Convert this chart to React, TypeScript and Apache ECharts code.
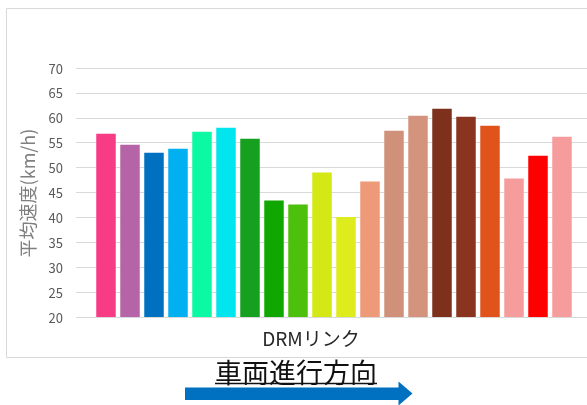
import React, { useEffect, useRef } from "react";
import * as echarts from "echarts";

const links = ["L1","L2","L3","L4","L5","L6","L7","L8","L9","L10","L11","L12","L13","L14","L15","L16","L17","L18","L19","L20"];
const speeds = [56.8, 54.6, 53.0, 53.8, 57.2, 58.0, 55.8, 43.4, 42.6, 49.0, 40.1, 47.2, 57.4, 60.4, 61.8, 60.2, 58.4, 47.8, 52.4, 56.2];
const barColors = ["#F83B85","#B565A7","#0070C0","#00B0F0","#0CF9A3","#00E5EE","#16A020","#10A800","#4CC00A","#D4E815","#DEEC1E","#EE9977","#D0917A","#D4937C","#7D301C","#8A3420","#E0541C","#F79C9C","#FF0000","#F79C9C"];
const yMin = 20;
const yMax = 70;
const yStep = 5;
const yName = "平均速度(km/h)";
const xName = "DRMリンク";
const direction = "車両進行方向";

const FONT = "'Noto Sans CJK JP', 'Noto Sans', sans-serif";

export default function App() {
  const ref = useRef<HTMLDivElement>(null);
  useEffect(() => {
    if (!ref.current) return;
    const chart = echarts.init(ref.current, null, { renderer: "svg" });
    chart.setOption({
      animation: false,
      textStyle: { fontFamily: FONT },
      grid: [
        { left: 76, right: 0, top: 68, bottom: 88 },
        { left: 94, right: 13, top: 68, bottom: 88 },
      ],
      xAxis: [
        { type: "value", gridIndex: 0, min: 0, max: 1, show: false },
        { type: "category", gridIndex: 1, data: links, show: false },
      ],
      yAxis: [
        {
          type: "value", gridIndex: 0, min: yMin, max: yMax, interval: yStep,
          axisLine: { show: false }, axisTick: { show: false },
          axisLabel: { color: "#595959", fontSize: 13, margin: 13, fontFamily: FONT },
          splitLine: { lineStyle: { color: "#d9d9d9", width: 1 } },
        },
        {
          type: "value", gridIndex: 1, min: yMin, max: yMax, interval: yStep,
          show: false, splitLine: { show: false },
        },
      ],
      series: [
        {
          type: "bar", xAxisIndex: 1, yAxisIndex: 1, barWidth: 19.5,
          data: speeds.map((v, i) => ({ value: v, itemStyle: { color: barColors[i] } })),
        },
      ],
      graphic: [
        { type: "rect", shape: { x: 6.5, y: 8.5, width: 600, height: 349 }, style: { fill: "none", stroke: "#d9d9d9", lineWidth: 1 }, silent: true },
        { type: "text", x: 27, y: 193, rotation: Math.PI / 2, style: { text: yName, fontSize: 18, fill: "#7f7f7f", fontFamily: FONT, align: "center", verticalAlign: "middle" } },
        { type: "text", x: 311, y: 337, style: { text: xName, fontSize: 19, fill: "#262626", fontFamily: FONT, align: "center", verticalAlign: "middle" } },
        { type: "text", x: 296, y: 371, style: { text: direction, fontSize: 27, fill: "#111111", fontFamily: FONT, align: "center", verticalAlign: "middle" } },
        { type: "line", shape: { x1: 215, y1: 383.5, x2: 377, y2: 383.5 }, style: { stroke: "#111111", lineWidth: 1.5 } },
        { type: "polygon", shape: { points: [[185, 387.5], [398.5, 387.5], [398.5, 381.5], [412.5, 393.5], [398.5, 405.5], [398.5, 400], [185, 400]] }, style: { fill: "#0070C0" } },
      ],
    });
    return () => chart.dispose();
  }, []);
  return <div ref={ref} style={{ position: "fixed", left: 0, top: 0, width: 587, height: 405 }} />;
}
